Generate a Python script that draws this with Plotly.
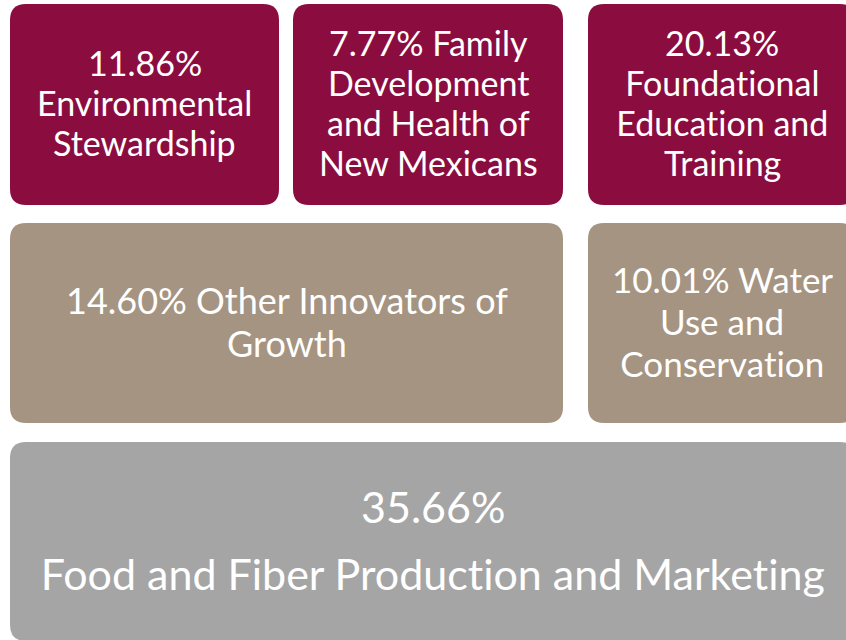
import plotly.graph_objects as go

# shares and labels of each block
shares = [11.86, 7.77, 20.13, 14.60, 10.01, 35.66]
labels = [
    ["{p}", "Environmental", "Stewardship"],
    ["{p} Family", "Development", "and Health of", "New Mexicans"],
    ["{p}", "Foundational", "Education and", "Training"],
    ["{p} Other Innovators of", "Growth"],
    ["{p} Water", "Use and", "Conservation"],
    ["{p}", "Food and Fiber Production and Marketing"],
]
groups = ["red", "red", "red", "tan", "tan", "gray"]

colors = {"red": "#8B0D3F", "tan": "#A59481", "gray": "#A5A5A5"}

# block layout in pixels: x0, x1, y0, y1, font size, line gap
boxes = [
    (10, 279, 4, 205, 34, 40),
    (293, 563, 4, 205, 34, 40),
    (588, 856, 4, 205, 34, 40),
    (10, 563, 223, 423, 36, 43),
    (588, 856, 223, 423, 35, 42),
    (10, 856, 442, 641, 43, 67),
]


def rounded(x0, x1, y0, y1, r=16):
    return (f"M{x0+r},{y0} L{x1-r},{y0} Q{x1},{y0} {x1},{y0+r} "
            f"L{x1},{y1-r} Q{x1},{y1} {x1-r},{y1} L{x0+r},{y1} "
            f"Q{x0},{y1} {x0},{y1-r} L{x0},{y0+r} Q{x0},{y0} {x0+r},{y0} Z")


fig = go.Figure()
font = "Lato"

for s, lines, g, b in zip(shares, labels, groups, boxes):
    x0, x1, y0, y1, fs, gap = b
    fig.add_shape(type="path", path=rounded(x0, x1, y0, y1),
                  fillcolor=colors[g], line=dict(width=0), layer="below")
    cx = (x0 + x1) / 2
    cy = (y0 + y1) / 2 - 2
    n = len(lines)
    for k, ln in enumerate(lines):
        fig.add_annotation(x=cx, y=cy + (k - (n - 1) / 2) * gap,
                           text=ln.format(p=f"{s:.2f}%"), showarrow=False,
                           font=dict(family=font, size=fs, color="white"))

fig.update_xaxes(range=[0, 846], visible=False)
fig.update_yaxes(range=[640, 0], visible=False)
fig.update_layout(width=846, height=640, margin=dict(l=0, r=0, t=0, b=0),
                  plot_bgcolor="white", paper_bgcolor="white", showlegend=False)
fig.write_html("out.html", config={"displayModeBar": False},
               post_script="document.body.style.margin='0';"
                           "document.body.style.overflow='hidden';"
                           "document.querySelectorAll('text').forEach("
                           "function(t){t.style.fontVariantLigatures='none';});")
